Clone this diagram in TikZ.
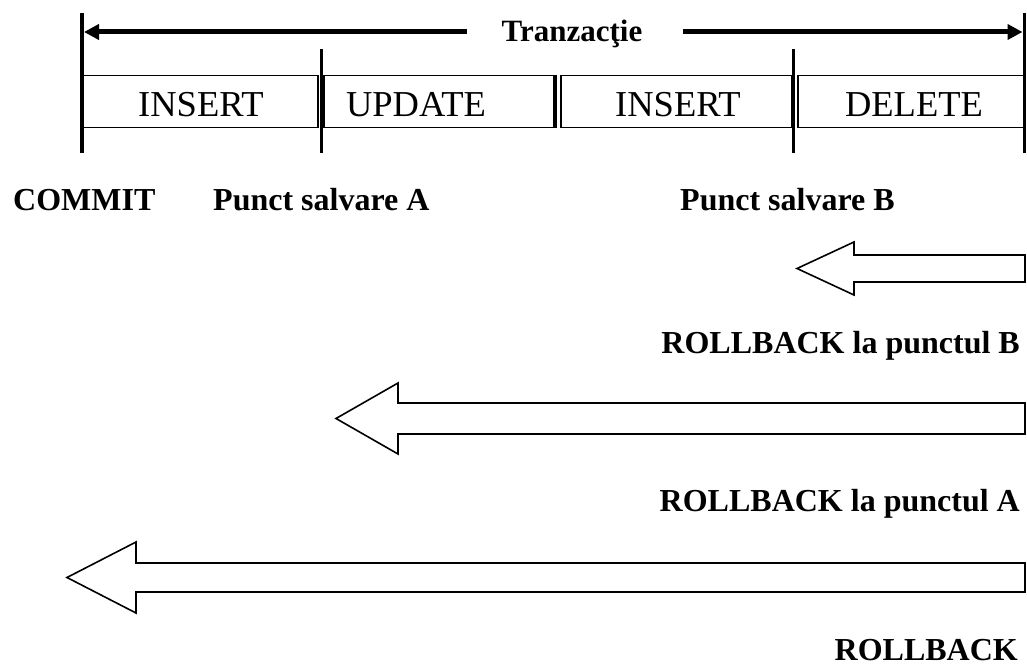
\documentclass[tikz,border=0pt]{standalone}
\usepackage{fontspec}
\setmainfont{Liberation Serif}
\usetikzlibrary{arrows.meta}
\begin{document}
\begin{tikzpicture}[x=1pt,y=-1pt,
  opbox/.style={draw, line width=1.5pt, minimum height=52pt, inner sep=0pt, anchor=north west},
  optext/.style={font=\fontsize{36.5}{40}\selectfont, inner sep=0pt, anchor=base},
  lbl/.style={font=\fontsize{32}{38}\selectfont\bfseries, inner sep=0pt},
  thickbar/.style={line width=4.5pt},
  thinbar/.style={line width=3pt},
  span/.style={line width=5pt, -{Triangle[length=15pt,width=15pt]}},
  hollow/.style={draw, line width=1.6pt, fill=white, line join=miter}]
\useasboundingbox (0,0) rectangle (1027,671);

% operation boxes
\node[opbox, minimum width=235pt] (box1) at (82,75) {};
\node[opbox, minimum width=230pt] (box2) at (323,75) {};
\node[opbox, minimum width=231pt] (box3) at (560,75) {};
\node[opbox, minimum width=227pt] (box4) at (797,75) {};
\draw[line width=3.5pt] ([xshift=1pt]box2.north east) -- ([xshift=1pt]box2.south east);

\node[optext] (t1) at (201,117) {INSERT};
\node[optext] (t2) at (416,117) {UPDATE};
\node[optext] (t3) at (678,117) {INSERT};
\node[optext] (t4) at (914,117) {DELETE};

% vertical bars
\coordinate (c0t) at (82,13);   \coordinate (c0b) at (82,153);
\coordinate (sAt) at (321,49);  \coordinate (sAb) at (321,153);
\coordinate (sBt) at (793,49);  \coordinate (sBb) at (793,153);
\coordinate (ent) at (1024,13); \coordinate (enb) at (1024,153);
\draw[thickbar] (c0t) -- (c0b);
\draw[thinbar] (sAt) -- (sAb);
\draw[thinbar] (sBt) -- (sBb);
\draw[thinbar] (ent) -- (enb);

% transaction span
\node[lbl, font=\fontsize{31}{36}\selectfont\bfseries, anchor=base] (tr) at (572,42) {Tranzacţie};
\coordinate (la) at (467,32); \coordinate (lt) at (84,32);
\coordinate (ra) at (683,32); \coordinate (rt) at (1022.5,32);
\draw[span] (la) -- (lt);
\draw[span] (ra) -- (rt);

% point labels
\node[lbl, anchor=base west] (commit) at (13,210) {COMMIT};
\node[lbl, anchor=base west] (pA) at (213,210) {Punct salvare A};
\node[lbl, anchor=base west] (pB) at (680,210) {Punct salvare B};

% rollback arrows
\draw[hollow] (1025,255) -- (854,255) -- (854,242) -- (797,268.5) -- (854,295) -- (854,282) -- (1025,282) -- cycle;
\node[lbl, anchor=base east] (rbB) at (1020,353) {ROLLBACK la punctul B};

\draw[hollow] (1025,403) -- (398,403) -- (398,383) -- (336,418.5) -- (398,454) -- (398,434) -- (1025,434) -- cycle;
\node[lbl, anchor=base east] (rbA) at (1020,511) {ROLLBACK la punctul A};

\draw[hollow] (1025,563) -- (136,563) -- (136,542) -- (67,577.5) -- (136,613) -- (136,592) -- (1025,592) -- cycle;
\node[lbl, anchor=base east] (rb) at (1018,660) {ROLLBACK};
\end{tikzpicture}
\end{document}
